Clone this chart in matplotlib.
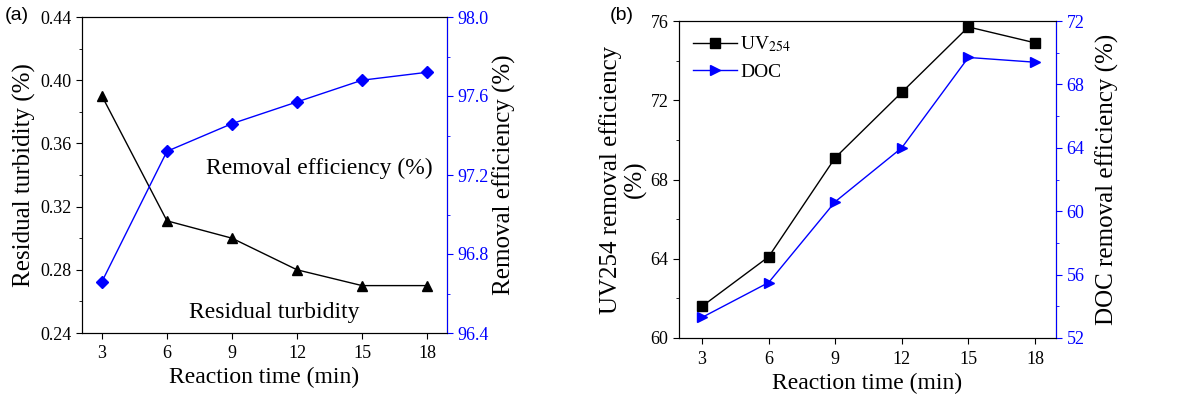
import matplotlib
matplotlib.use('Agg')
import matplotlib.pyplot as plt
from matplotlib.ticker import MultipleLocator

plt.rcParams['font.family'] = ['Liberation Serif', 'DejaVu Serif']
plt.rcParams['mathtext.fontset'] = 'stix'

# reaction time (min)
time = [3, 6, 9, 12, 15, 18]

# panel (a)
turbidity = [0.390, 0.311, 0.300, 0.280, 0.270, 0.270]
removal = [96.66, 97.32, 97.46, 97.57, 97.68, 97.72]

# panel (b)
uv254 = [61.6, 64.1, 69.1, 72.4, 75.7, 74.9]
doc = [53.3, 55.5, 60.6, 64.0, 69.7, 69.4]

blue = '#0000ff'
fig = plt.figure(figsize=(11.94, 4.0), dpi=100)

def style(ax, twin, xpad):
    ax.tick_params(axis='both', direction='out', labelsize=13, length=4)
    ax.tick_params(which='minor', direction='out', length=2)
    ax.tick_params(axis='x', which='minor', bottom=False)
    ax.tick_params(axis='x', pad=5)
    twin.tick_params(axis='y', direction='out', labelsize=13, length=4, colors=blue)
    twin.tick_params(axis='y', which='minor', direction='out', length=2, colors=blue)
    twin.spines['right'].set_color(blue)
    ax.set_xticks(time)
    ax.set_xlabel('Reaction time (min)', fontsize=17, labelpad=xpad)

# ---- (a) ----
ax1 = fig.add_axes([82/1194, 1-333/400, (447-82)/1194, (333-17)/400])
ax1r = ax1.twinx()
ax1.plot(time, turbidity, color='black', lw=1, marker='^', ms=7.5)
ax1r.plot(time, removal, color=blue, lw=1, marker='D', ms=6.5)
ax1.set_ylim(0.24, 0.44)
ax1.yaxis.set_major_locator(MultipleLocator(0.04))
ax1.yaxis.set_minor_locator(MultipleLocator(0.02))
ax1.yaxis.set_major_formatter(matplotlib.ticker.FormatStrFormatter('%.2f'))
ax1r.set_ylim(96.4, 98.0)
ax1r.yaxis.set_major_locator(MultipleLocator(0.4))
ax1r.yaxis.set_minor_locator(MultipleLocator(0.2))
ax1r.yaxis.set_major_formatter(matplotlib.ticker.FormatStrFormatter('%.1f'))
style(ax1, ax1r, 3)
ax1.set_xlim(2.08, 18.92)
ax1.set_ylabel('Residual turbidity (%)', fontsize=18, labelpad=3)
ax1r.set_ylabel('Removal efficiency (%)', fontsize=18, labelpad=3)
ax1.text(13.05, 0.344, 'Removal efficiency (%)', fontsize=17, ha='center', va='center')
ax1.text(10.95, 0.253, 'Residual turbidity', fontsize=17, ha='center', va='center')
fig.text(5/1194, 1-16/400, '(a)', fontsize=14, family='Liberation Sans', va='center')

# ---- (b) ----
ax2 = fig.add_axes([679/1194, 1-338/400, (1056-679)/1194, (338-21)/400])
ax2r = ax2.twinx()
l1, = ax2.plot(time, uv254, color='black', lw=1, marker='s', ms=7.5, label='UV$_{254}$')
l2, = ax2r.plot(time, doc, color=blue, lw=1, marker='>', ms=7.5, label='DOC')
ax2.set_ylim(60, 76)
ax2.yaxis.set_major_locator(MultipleLocator(4))
ax2.yaxis.set_minor_locator(MultipleLocator(2))
ax2r.set_ylim(52, 72)
ax2r.yaxis.set_major_locator(MultipleLocator(4))
ax2r.yaxis.set_minor_locator(MultipleLocator(2))
style(ax2, ax2r, 4)
ax2.set_xlim(1.96, 18.95)
ax2.set_ylabel('UV254 removal efficiency\n(%)', fontsize=18, labelpad=3, linespacing=1.05)
ax2r.set_ylabel('DOC removal efficiency (%)', fontsize=18, labelpad=8)
ax2.legend(handles=[l1, l2], loc='upper left', frameon=False, fontsize=14,
           handlelength=2.3, handletextpad=0.15, borderaxespad=0.4, labelspacing=0.45,
           borderpad=0.3)
fig.text(610/1194, 1-16/400, '(b)', fontsize=14, family='Liberation Sans', va='center')

fig.savefig('out.png', dpi=100)
